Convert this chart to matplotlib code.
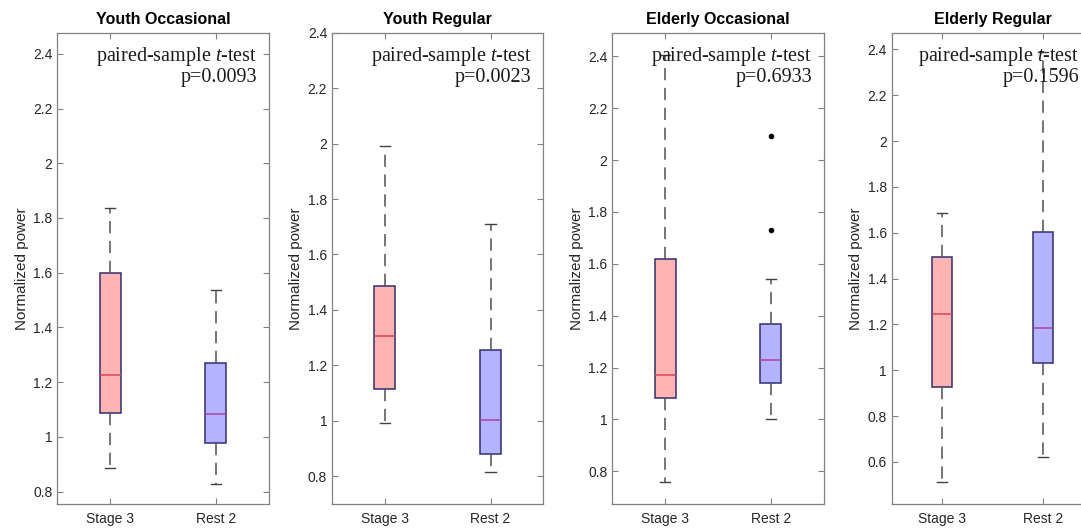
import numpy as np
import matplotlib.pyplot as plt
from matplotlib.ticker import FormatStrFormatter

plt.rcParams['font.family'] = ['Liberation Sans', 'DejaVu Sans']
plt.rcParams['mathtext.fontset'] = 'custom'
plt.rcParams['mathtext.rm'] = 'Liberation Serif'
plt.rcParams['mathtext.it'] = 'Liberation Serif:italic'

# data
titles = ['Youth Occasional', 'Youth Regular', 'Elderly Occasional', 'Elderly Regular']
groups = ['Stage 3', 'Rest 2']
p_values = ['0.0093', '0.0023', '0.6933', '0.1596']

# [whislo, q1, med, q3, whishi] for Stage 3 and Rest 2
stage3 = [[0.885, 1.089, 1.226, 1.599, 1.838],
          [0.992, 1.115, 1.307, 1.488, 1.993],
          [0.758, 1.082, 1.170, 1.620, 2.405],
          [0.512, 0.926, 1.245, 1.492, 1.687]]
rest2 = [[0.828, 0.979, 1.084, 1.272, 1.538],
         [0.816, 0.879, 1.004, 1.256, 1.709],
         [1.001, 1.140, 1.228, 1.367, 1.540],
         [0.621, 1.032, 1.183, 1.602, 2.390]]
rest2_outliers = [[], [], [2.091, 1.730], []]

ylims = [(0.755, 2.477), (0.7, 2.4), (0.674, 2.491), (0.416, 2.473)]
yticks = [np.arange(0.8, 2.41, 0.2), np.arange(0.8, 2.41, 0.2),
          np.arange(0.8, 2.41, 0.2), np.arange(0.6, 2.41, 0.2)]

# axes placement in pixels
lefts = [57.3, 332.0, 612.3, 891.7]
widths = [211.4, 211.4, 211.4, 202.0]
text_x = [0.945, 0.945, 0.945, 0.93]
W, H = 1081, 529

fig = plt.figure(figsize=(W / 100, H / 100), dpi=100)

face = ['#FFB3B3', '#B3B3FF']
medc = ['#E0405A', '#B0449A']

for i in range(4):
    ax = fig.add_axes([lefts[i] / W, 25 / H, widths[i] / W, 471.3 / H])
    stats = []
    for k, d in enumerate([stage3[i], rest2[i]]):
        stats.append(dict(whislo=d[0], q1=d[1], med=d[2], q3=d[3], whishi=d[4],
                          fliers=rest2_outliers[i] if k == 1 else []))
    bp = ax.bxp(stats, positions=[1, 2], widths=0.2, capwidths=0.1,
                patch_artist=True, showfliers=True,
                whiskerprops=dict(color='#505050', lw=1.1, linestyle=(0, (8, 5))),
                capprops=dict(color='#404040', lw=1.0),
                flierprops=dict(marker='.', markerfacecolor='black',
                                markeredgecolor='black', markersize=6),
                boxprops=dict(edgecolor='#2E2E70', lw=1.1),
                medianprops=dict(lw=1.1))
    for k, b in enumerate(bp['boxes']):
        b.set_facecolor(face[k])
        bp['medians'][k].set_color(medc[k])

    ax.set_xlim(0.5, 2.5)
    ax.set_ylim(*ylims[i])
    ax.set_yticks(yticks[i])
    ax.yaxis.set_major_formatter(FormatStrFormatter('%g'))
    ax.set_xticks([1, 2])
    ax.set_xticklabels(groups)
    ax.tick_params(direction='in', length=4, width=0.8, color='#808080',
                   top=True, right=True, labelsize=10, labelcolor='#262626')
    ax.tick_params(axis='x', pad=6)
    for s in ax.spines.values():
        s.set_color('#808080')
        s.set_linewidth(0.9)
    ax.set_title(titles[i], fontsize=11.5, fontweight='bold', pad=6)
    ax.set_ylabel('Normalized power', fontsize=11, color='#262626', labelpad=3)

    ax.text(text_x[i], 0.94, 'paired-sample $t$-test', transform=ax.transAxes,
            ha='right', va='baseline', fontsize=14.5, family='Liberation Serif',
            color='#1a1a1a')
    ax.text(text_x[i], 0.895, 'p=' + p_values[i], transform=ax.transAxes,
            ha='right', va='baseline', fontsize=14.5, family='Liberation Serif',
            color='#1a1a1a')

fig.savefig('out.png', dpi=100)
